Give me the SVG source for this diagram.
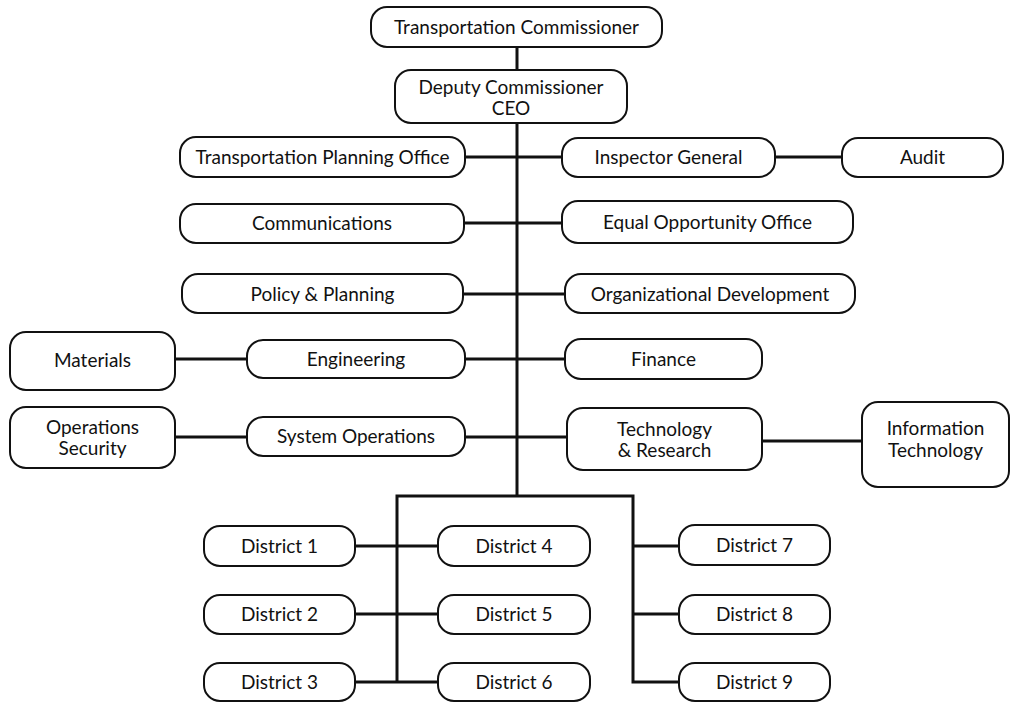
<svg xmlns="http://www.w3.org/2000/svg" width="1013" height="702" viewBox="0 0 1013 702">
  <style>
    .box { fill: #ffffff; stroke: #111111; stroke-width: 2; }
    .lbl { font-family: Lato, "Open Sans", "Liberation Sans", sans-serif; font-size: 19px; fill: #111111; text-anchor: middle; }
    .wire { fill: none; stroke: #111111; stroke-width: 3; stroke-linecap: butt; }
  </style>
  <rect width="1013" height="702" fill="#ffffff"/>

  <!-- connectors -->
  <g id="connectors" class="wire">
    <path d="M517 47 V496"/>
    <path d="M465 157 H562"/>
    <path d="M775 157 H842"/>
    <path d="M464 223 H562"/>
    <path d="M463 294 H565"/>
    <path d="M175 359 H247"/>
    <path d="M465 359 H565"/>
    <path d="M175 437 H247"/>
    <path d="M465 437 H567"/>
    <path d="M762 441 H862"/>
    <path d="M397 682 V496 H633 V682 H679"/>
    <path d="M633 546 H679"/>
    <path d="M633 614 H679"/>
    <path d="M355 546 H438"/>
    <path d="M355 614 H438"/>
    <path d="M355 682 H438"/>
  </g>

  <g id="commissioner">
    <rect class="box" x="371" y="7" width="291" height="40" rx="16"/>
    <text class="lbl" x="516.5" y="34">Transportation Commissioner</text>
  </g>
  <g id="deputy">
    <rect class="box" x="395" y="70" width="232" height="53" rx="16"/>
    <text class="lbl" x="511" y="94">Deputy Commissioner</text>
    <text class="lbl" x="511" y="115">CEO</text>
  </g>

  <g id="planning-office">
    <rect class="box" x="180" y="137" width="285" height="40" rx="16"/>
    <text class="lbl" x="322.5" y="164">Transportation Planning Office</text>
  </g>
  <g id="communications">
    <rect class="box" x="180" y="204" width="284" height="39" rx="16"/>
    <text class="lbl" x="322" y="230">Communications</text>
  </g>
  <g id="policy">
    <rect class="box" x="182" y="274" width="281" height="39" rx="16"/>
    <text class="lbl" x="322.5" y="301">Policy &amp; Planning</text>
  </g>
  <g id="materials">
    <rect class="box" x="10" y="332" width="165" height="58" rx="16"/>
    <text class="lbl" x="92.5" y="367">Materials</text>
  </g>
  <g id="engineering">
    <rect class="box" x="247" y="340" width="218" height="38" rx="16"/>
    <text class="lbl" x="356" y="366">Engineering</text>
  </g>
  <g id="ops-security">
    <rect class="box" x="10" y="407" width="165" height="61" rx="16"/>
    <text class="lbl" x="92.5" y="434">Operations</text>
    <text class="lbl" x="92.5" y="455">Security</text>
  </g>
  <g id="system-ops">
    <rect class="box" x="247" y="417" width="218" height="39" rx="16"/>
    <text class="lbl" x="356" y="443">System Operations</text>
  </g>

  <g id="inspector">
    <rect class="box" x="562" y="138" width="213" height="39" rx="16"/>
    <text class="lbl" x="668.5" y="164">Inspector General</text>
  </g>
  <g id="audit">
    <rect class="box" x="842" y="138" width="161" height="39" rx="16"/>
    <text class="lbl" x="922.5" y="164">Audit</text>
  </g>
  <g id="equal-opportunity">
    <rect class="box" x="562" y="201" width="291" height="42" rx="16"/>
    <text class="lbl" x="707.5" y="229">Equal Opportunity Office</text>
  </g>
  <g id="org-dev">
    <rect class="box" x="565" y="274" width="290" height="39" rx="16"/>
    <text class="lbl" x="710" y="301">Organizational Development</text>
  </g>
  <g id="finance">
    <rect class="box" x="565" y="339" width="197" height="40" rx="16"/>
    <text class="lbl" x="663.5" y="366">Finance</text>
  </g>
  <g id="tech-research">
    <rect class="box" x="567" y="408" width="195" height="62" rx="16"/>
    <text class="lbl" x="664.5" y="436">Technology</text>
    <text class="lbl" x="664.5" y="457">&amp; Research</text>
  </g>
  <g id="info-tech">
    <rect class="box" x="862" y="402" width="147" height="85" rx="16"/>
    <text class="lbl" x="935.5" y="435">Information</text>
    <text class="lbl" x="935.5" y="457">Technology</text>
  </g>

  <g id="district-1">
    <rect class="box" x="204" y="526" width="151" height="40" rx="16"/>
    <text class="lbl" x="279.5" y="553">District 1</text>
  </g>
  <g id="district-2">
    <rect class="box" x="204" y="595" width="151" height="39" rx="16"/>
    <text class="lbl" x="279.5" y="621">District 2</text>
  </g>
  <g id="district-3">
    <rect class="box" x="204" y="663" width="151" height="38" rx="16"/>
    <text class="lbl" x="279.5" y="689">District 3</text>
  </g>
  <g id="district-4">
    <rect class="box" x="438" y="526" width="152" height="40" rx="16"/>
    <text class="lbl" x="514" y="553">District 4</text>
  </g>
  <g id="district-5">
    <rect class="box" x="438" y="595" width="152" height="39" rx="16"/>
    <text class="lbl" x="514" y="621">District 5</text>
  </g>
  <g id="district-6">
    <rect class="box" x="438" y="663" width="152" height="38" rx="16"/>
    <text class="lbl" x="514" y="689">District 6</text>
  </g>
  <g id="district-7">
    <rect class="box" x="679" y="525" width="151" height="40" rx="16"/>
    <text class="lbl" x="754.5" y="552">District 7</text>
  </g>
  <g id="district-8">
    <rect class="box" x="679" y="595" width="151" height="39" rx="16"/>
    <text class="lbl" x="754.5" y="621">District 8</text>
  </g>
  <g id="district-9">
    <rect class="box" x="679" y="663" width="151" height="38" rx="16"/>
    <text class="lbl" x="754.5" y="689">District 9</text>
  </g>
</svg>
